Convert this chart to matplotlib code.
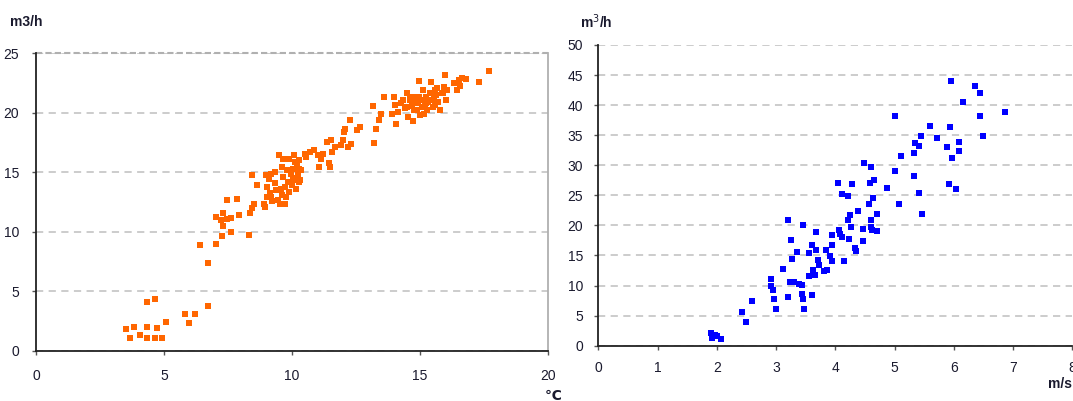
import matplotlib
matplotlib.use("Agg")
import matplotlib.pyplot as plt

# Left chart: flow (m3/h) vs temperature (°C)
temp_x = [3.52, 3.66, 3.83, 4.08, 4.32, 4.33, 4.33, 4.66, 4.66, 4.72, 4.92, 5.08,
          5.81, 5.98, 6.22, 6.73, 6.70, 6.41, 7.04, 7.25, 7.32, 7.60, 7.04, 7.22,
          7.32, 7.45, 7.63, 7.92, 7.47, 7.86, 8.31, 8.34, 8.44, 8.44, 8.53, 8.65,
          8.90, 8.93, 9.00, 9.04, 9.11, 9.13, 9.18, 9.22, 9.32, 9.34, 9.45, 9.50,
          9.53, 9.59, 9.66, 9.64, 9.71, 9.78, 9.81, 9.85, 9.87, 9.90, 9.99, 10.04,
          10.08, 10.10, 10.15, 10.20, 10.24, 10.27, 10.32, 10.36, 10.29, 10.50, 10.54,
          10.71, 10.85, 11.02, 11.06, 11.13, 11.20, 11.38, 11.44, 11.48, 11.51, 11.55,
          11.69, 11.90, 12.00, 12.04, 12.08, 12.18, 12.25, 12.32, 12.53, 12.67, 13.16,
          13.20, 13.27, 13.41, 13.46, 13.60, 13.90, 13.97, 14.04, 14.06, 14.13, 14.27,
          14.41, 14.51, 14.55, 14.60, 14.69, 14.73, 14.79, 14.87, 14.93, 14.97, 15.01,
          15.04, 15.08, 15.13, 15.18, 15.22, 15.27, 15.32, 15.39, 15.43, 15.49, 15.53,
          15.57, 15.63, 15.67, 15.71, 15.78, 15.84, 15.91, 15.95, 15.99, 16.02, 16.06,
          16.33, 16.44, 16.51, 16.58, 16.65, 16.79, 17.30, 17.70,
          14.34, 14.83, 15.25, 15.46, 15.60, 14.48, 14.76, 15.14, 14.62, 14.97,
          9.39, 9.57, 9.74, 9.95, 10.02, 9.60, 9.18, 9.04, 10.13, 10.27]
temp_y = [1.83, 1.07, 2.05, 1.32, 2.02, 4.13, 1.12, 4.35, 1.12, 1.97, 1.12, 2.44,
          3.09, 2.39, 3.09, 3.74, 7.39, 8.90, 8.99, 9.63, 10.48, 10.03, 11.29, 11.01,
          11.60, 11.10, 11.21, 11.38, 12.64, 12.78, 9.75, 11.60, 12.02, 14.80, 12.36, 13.96,
          12.36, 12.08, 14.75, 13.76, 14.47, 13.26, 12.92, 12.56, 15.03, 14.10, 12.64, 16.49,
          12.36, 13.12, 16.15, 14.61, 12.36, 12.92, 15.22, 14.19, 16.15, 13.34, 13.90, 15.31,
          16.43, 14.52, 13.62, 15.73, 14.89, 16.01, 14.33, 15.17, 14.19, 16.52, 16.29,
          16.71, 16.91, 16.43, 15.45, 16.15, 16.57, 17.56, 15.81, 15.45, 17.75, 16.71,
          17.13, 17.28, 17.70, 18.40, 18.68, 17.13, 19.38, 17.42, 18.54, 18.82, 20.56,
          17.50, 18.62, 19.38, 19.94, 21.29, 19.94, 21.35, 20.65, 19.04, 20.08, 20.79,
          20.37, 21.63, 19.66, 21.07, 20.56, 19.30, 21.35, 20.22, 20.79, 22.67, 19.80,
          21.07, 20.45, 21.91, 20.65, 21.35, 20.22, 20.93, 21.63, 22.61, 20.51, 21.21,
          21.91, 21.49, 22.05, 20.93, 20.22, 21.63, 21.69, 22.19, 23.17, 21.07, 21.91,
          22.47, 21.91, 22.75, 22.25, 22.89, 22.81, 22.61, 23.54,
          21.07, 21.07, 20.79, 21.07, 20.65, 20.51, 20.22, 19.94, 21.35, 21.35,
          13.48, 13.62, 13.76, 14.89, 14.33, 15.45, 14.89, 12.92, 15.87, 15.31]

# Right chart: flow (m3/h) vs wind speed (m/s)
wind_x = [1.90, 1.92, 1.97, 2.00, 2.07, 2.43, 2.50, 2.60, 2.91, 2.91, 2.95, 2.97,
          3.00, 3.12, 3.21, 3.21, 3.23, 3.26, 3.27, 3.31, 3.35, 3.39, 3.43, 3.44,
          3.45, 3.46, 3.48, 3.56, 3.56, 3.60, 3.61, 3.63, 3.66, 3.67, 3.68, 3.71,
          3.73, 3.81, 3.84, 3.86, 3.91, 3.94, 3.94, 3.95, 4.05, 4.06, 4.08, 4.11,
          4.11, 4.14, 4.21, 4.21, 4.23, 4.25, 4.26, 4.28, 4.34, 4.35, 4.39, 4.46,
          4.47, 4.48, 4.57, 4.59, 4.60, 4.60, 4.61, 4.62, 4.63, 4.66, 4.70, 4.70,
          4.87, 5.00, 5.00, 5.07, 5.11, 5.32, 5.32, 5.34, 5.42, 5.42, 5.44, 5.47,
          5.60, 5.71, 5.88, 5.92, 5.93, 5.95, 5.97, 6.04, 6.09, 6.09, 6.15, 6.35,
          6.44, 6.44, 6.49, 6.87]
wind_y = [2.10, 1.27, 1.83, 1.55, 1.16, 5.59, 3.88, 7.36, 11.07, 9.86, 9.30, 7.81,
          6.09, 12.79, 20.82, 8.03, 10.58, 17.61, 14.45, 10.58, 15.50, 10.24, 10.13, 8.64,
          20.10, 7.81, 6.09, 11.52, 15.39, 8.36, 16.67, 12.62, 11.79, 18.88, 15.95, 14.29,
          13.46, 12.35, 15.95, 12.62, 14.84, 14.01, 16.78, 18.44, 27.02, 19.27, 18.55, 18.05,
          25.19, 14.01, 20.93, 24.92, 17.77, 21.65, 19.66, 26.86, 16.22, 15.78, 22.43, 19.44,
          17.44, 30.34, 23.59, 27.13, 29.79, 20.93, 19.82, 19.27, 24.53, 27.57, 21.93, 18.99,
          26.30, 38.21, 29.07, 23.59, 31.56, 32.00, 28.29, 33.67, 33.22, 25.36, 34.94, 21.93,
          36.60, 34.61, 33.00, 26.86, 36.43, 44.02, 31.17, 26.08, 33.94, 32.39, 40.59, 43.19,
          41.97, 38.21, 34.94, 38.93]

left_xticks = [0, 5, 10, 15, 20]
left_yticks = [0, 5, 10, 15, 20, 25]
right_xticks = [0, 1, 2, 3, 4, 5, 6, 7, 8]
right_yticks = [0, 5, 10, 15, 20, 25, 30, 35, 40, 45, 50]

W, H = 1073, 401
fig = plt.figure(figsize=(W / 100, H / 100), dpi=100)
plt.rcParams['font.family'] = ['Liberation Sans', 'DejaVu Sans']

txtcol = '#1a1a2e'
gridcol = '#c8c8c8'


def style(ax):
    ax.set_facecolor('white')
    ax.grid(axis='y', color=gridcol, linestyle=(0, (4, 3)), linewidth=1.3)
    ax.set_axisbelow(True)
    for s in ('left', 'bottom'):
        ax.spines[s].set_color('#222222')
        ax.spines[s].set_linewidth(1.3)
    ax.tick_params(axis='both', direction='out', length=3, width=1.0,
                   color='#555555', labelsize=10, labelcolor=txtcol)


# Left axes
ax1 = fig.add_axes([36 / W, 1 - 351 / H, 512 / W, 297.7 / H])
style(ax1)
ax1.scatter(temp_x, temp_y, marker='s', s=15, color='#ff6600', linewidths=0, zorder=3)
ax1.set_xlim(0, 20)
ax1.set_ylim(0, 25)
ax1.set_xticks(left_xticks)
ax1.set_yticks(left_yticks)
ax1.spines['top'].set_visible(False)
ax1.spines['right'].set_color('#b0b0b0')
ax1.spines['right'].set_linewidth(1.3)
ax1.axhline(25, color='#b0b0b0', linestyle=(0, (3, 1.5)), linewidth=1.5, clip_on=False)
ax1.tick_params(axis='x', pad=10)
ax1.tick_params(axis='y', pad=9)
fig.text(10 / W, 1 - 22 / H, 'm3/h', fontsize=10, fontweight='bold',
         color=txtcol, va='center', ha='left')
fig.text(553 / W, 1 - 396 / H, '\u2103', fontsize=10, fontweight='bold',
         color=txtcol, va='center', ha='center', family=['DejaVu Sans'])

# Right axes
ax2 = fig.add_axes([598.3 / W, 1 - 345.7 / H, 474 / W, 300.7 / H])
style(ax2)
ax2.scatter(wind_x, wind_y, marker='s', s=24, color='#0000ff', linewidths=0, zorder=3)
ax2.set_xlim(0, 8)
ax2.set_ylim(0, 50)
ax2.set_xticks(right_xticks)
ax2.set_yticks(right_yticks)
ax2.spines['top'].set_visible(False)
ax2.spines['right'].set_visible(False)
ax2.tick_params(axis='x', pad=8)
ax2.tick_params(axis='y', pad=8)
fig.text(580 / W, 1 - 22 / H, 'm$^3$/h', fontsize=10, fontweight='bold',
         color=txtcol, va='center', ha='left')
fig.text(1072 / W, 1 - 384 / H, 'm/s', fontsize=10, fontweight='bold',
         color=txtcol, va='center', ha='right')

fig.savefig('out.png', dpi=100, facecolor='white')
